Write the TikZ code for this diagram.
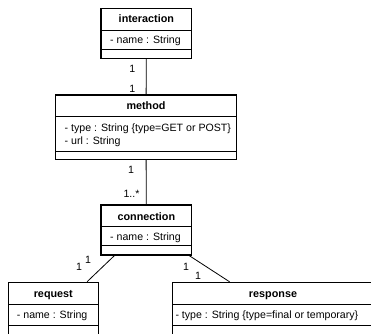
\documentclass[tikz,border=0pt]{standalone}
\usepackage{fontspec}
\setmainfont{Liberation Sans}
\usetikzlibrary{calc}
\begin{document}
\begin{tikzpicture}[x=1pt,y=-1pt,
  font=\fontsize{10.6}{13}\selectfont,
  frame/.style={draw, line width=1.5pt, inner sep=0pt},
  sep/.style={line width=0.8pt},
  txt/.style={inner sep=0pt, text height=7.6pt, text depth=0pt},
  ttl/.style={txt, font=\fontsize{10.8}{13}\selectfont\bfseries},
  attr/.style={txt, anchor=west},
  mult/.style={txt},
  assoc/.style={line width=0.8pt}]
\useasboundingbox (0,0) rectangle (371,333);

% interaction
\node[frame, minimum width=90.7pt, minimum height=50pt] (interaction) at (146.35,33.3) {};
\draw[sep] (101,30) -- (191.7,30);
\draw[sep] (101,49.3) -- (191.7,49.3);
\node[ttl] (interaction-t) at (146.35,18.7) {interaction};
\node[attr] (interaction-a) at (110,40) {- name : String};

% method
\node[frame, minimum width=181.4pt, minimum height=64.3pt] (method) at (146,127.15) {};
\draw[sep] (55.3,116) -- (236.7,116);
\draw[sep] (55.3,151) -- (236.7,151);
\node[ttl] (method-t) at (146,106) {method};
\node[attr] (method-a1) at (64.5,127.7) {- type : String \{type=GET or POST\}};
\node[attr] (method-a2) at (64.5,140.2) {- url : String};

% connection
\node[frame, minimum width=90.7pt, minimum height=50pt] (connection) at (146.35,230) {};
\draw[sep] (101,226.7) -- (191.7,226.7);
\draw[sep] (101,245) -- (191.7,245);
\node[ttl] (connection-t) at (146.35,216.3) {connection};
\node[attr] (connection-a) at (110,236.3) {- name : String};

% request
\node[frame, minimum width=90pt, minimum height=52.7pt] (request) at (53.3,308.85) {};
\draw[sep] (8.3,304) -- (98.3,304);
\draw[sep] (8.3,325) -- (98.3,325);
\node[ttl] (request-t) at (53.3,293.3) {request};
\node[attr] (request-a) at (16.7,314.8) {- name : String};

% response
\node[frame, minimum width=202.7pt, minimum height=52.7pt] (response) at (273.65,308.85) {};
\draw[sep] (172.3,304) -- (375,304);
\draw[sep] (172.3,325) -- (375,325);
\node[ttl] (response-t) at (273,293.3) {response};
\node[attr] (response-a) at (175.3,314.8) {- type : String \{type=final or temporary\}};

% associations
\draw[assoc] (interaction) -- (method);
\draw[assoc] (method) -- (connection);
\draw[assoc] ($(connection.south west)+(14,0)$) -- ($(request.north east)+(-12,0)$);
\draw[assoc] ($(connection.south east)+(-3,0)$) -- ($(response.north west)+(58,0)$);

% multiplicities
\node[mult] (m1) at (132.3,68.3) {1};
\node[mult] (m2) at (132.3,88.3) {1};
\node[mult] (m3) at (131,169.5) {1};
\node[mult] (m4) at (131.5,194) {1..*};
\node[mult] (m5) at (79,267) {1};
\node[mult] (m6) at (88,260) {1};
\node[mult] (m7) at (186,266.5) {1};
\node[mult] (m8) at (198,276) {1};
\end{tikzpicture}
\end{document}
